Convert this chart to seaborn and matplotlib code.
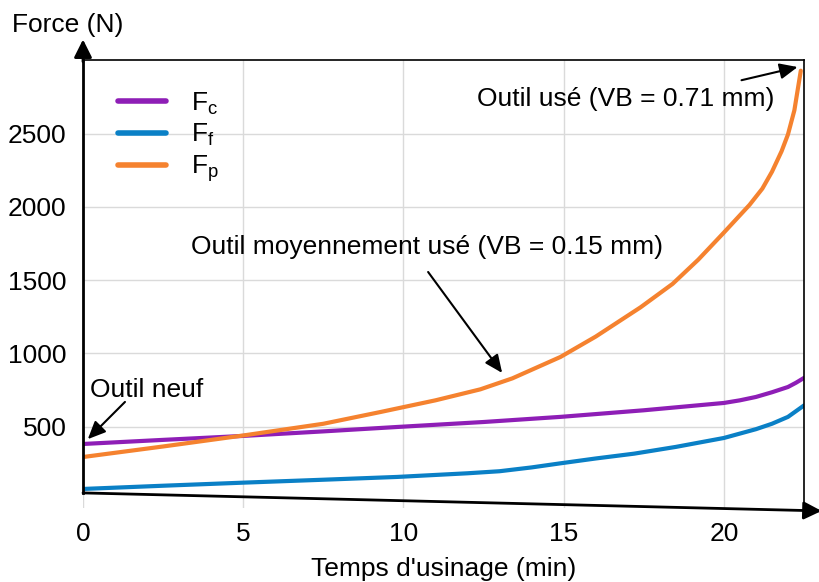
import numpy as np
import pandas as pd
import matplotlib
matplotlib.use("Agg")
import matplotlib.pyplot as plt
import seaborn as sns

# Données
temps_c = [0, 2.5, 5, 7.5, 9.8, 12.5, 14.9, 17.5, 20, 20.5, 21, 21.5, 22, 22.25, 22.5]
force_c = [382, 410, 437, 468, 498, 532, 567, 612, 662, 680, 703, 735, 771, 800, 833]
temps_f = [0, 2.5, 5, 7.5, 9.8, 12, 13, 14, 14.9, 16, 17.2, 18.5, 20, 21, 21.5, 22, 22.5]
force_f = [75, 97, 118, 138, 157, 182, 196, 222, 250, 283, 316, 362, 423, 483, 520, 567, 645]
temps_p = [0, 2.5, 5, 7.5, 9.3, 11, 12.4, 13.4, 14.9, 16, 17.4, 18.4, 19.2, 20, 20.8, 21.2,
           21.5, 21.8, 22.0, 22.2, 22.4]
force_p = [293, 365, 440, 520, 601, 680, 755, 830, 976, 1115, 1315, 1475, 1640, 1825, 2014,
           2125, 2240, 2380, 2495, 2660, 2930]

series = ["F$_\\mathrm{c}$", "F$_\\mathrm{f}$", "F$_\\mathrm{p}$"]
couleurs = ["#8E1EB6", "#0A80C6", "#F5822F"]
yticks = [500, 1000, 1500, 2000, 2500]
xticks = [0, 5, 10, 15, 20]

df = pd.concat([
    pd.DataFrame({"temps": temps_c, "force": force_c, "serie": series[0]}),
    pd.DataFrame({"temps": temps_f, "force": force_f, "serie": series[1]}),
    pd.DataFrame({"temps": temps_p, "force": force_p, "serie": series[2]}),
], ignore_index=True)

sns.set_theme(style="whitegrid")
plt.rcParams["font.family"] = ["Liberation Sans", "DejaVu Sans"]
plt.rcParams["mathtext.fontset"] = "custom"
plt.rcParams["mathtext.rm"] = "Liberation Sans"
plt.rcParams["mathtext.it"] = "Liberation Sans"
plt.rcParams["text.color"] = "black"

fs = 19

fig = plt.figure(figsize=(8.2, 5.82), dpi=100)
ax = fig.add_axes([83 / 820, 1 - 508 / 582, 721 / 820, 448 / 582])

sns.lineplot(data=df, x="temps", y="force", hue="serie", palette=couleurs,
             linewidth=3, ax=ax, legend=True, sort=True)

ax.set_xlim(0, 22.5)
ax.set_ylim(-55, 3003)
ax.set_xticks(xticks)
ax.set_yticks(yticks)
ax.tick_params(labelsize=fs, length=0, colors="black")
ax.tick_params(axis="y", pad=12)
ax.tick_params(axis="x", pad=10)
ax.grid(True, color="#dadada", linewidth=1)
ax.set_xlabel("Temps d'usinage (min)", fontsize=fs, labelpad=8, color="black")
ax.set_ylabel("")
ax.text(-0.099, 1.078, "Force (N)", transform=ax.transAxes, fontsize=fs,
        ha="left", va="center")

# Cadre
ax.spines["bottom"].set_visible(False)
ax.spines["left"].set_color("black")
ax.spines["left"].set_linewidth(2)
ax.spines["left"].set_bounds(48, 3003)
for s in ["top", "right"]:
    ax.spines[s].set_color("black")
    ax.spines[s].set_linewidth(1.2)

# Flèches des axes
ax.annotate("", xy=(0, 1.052), xytext=(0, 0.99), xycoords="axes fraction",
            arrowprops=dict(arrowstyle="-|>,head_width=0.45,head_length=0.9",
                            color="black", lw=2), annotation_clip=False)
ax.annotate("", xy=(23.05, -75), xytext=(0, 48), xycoords="data",
            arrowprops=dict(arrowstyle="-|>,head_width=0.45,head_length=0.9",
                            color="black", lw=2, shrinkA=0, shrinkB=0),
            annotation_clip=False)

# Annotations
fleche = dict(arrowstyle="-|>,head_width=0.4,head_length=0.9", color="black", lw=1.5,
              shrinkA=0, shrinkB=0)
ax.text(0.22, 751, "Outil neuf", fontsize=fs, ha="left", va="center")
ax.annotate("", xy=(0.15, 415), xytext=(1.31, 669), arrowprops=fleche)
ax.text(10.72, 1727, "Outil moyennement usé (VB = 0.15 mm)", fontsize=fs,
        ha="center", va="center")
ax.annotate("", xy=(13.08, 867), xytext=(10.77, 1556), arrowprops=fleche)
ax.text(12.3, 2740, "Outil usé (VB = 0.71 mm)", fontsize=fs, ha="left", va="center")
ax.annotate("", xy=(22.3, 2955), xytext=(20.55, 2865), arrowprops=fleche,
            annotation_clip=False)

# Légende
handles, labels = ax.get_legend_handles_labels()
leg = ax.legend(handles, labels, loc="upper left", bbox_to_anchor=(0.015, 0.985),
                frameon=False, fontsize=fs, handlelength=1.85, handletextpad=0.95,
                labelspacing=0.2)
for h in leg.get_lines():
    h.set_linewidth(4)

fig.savefig("out.png", dpi=100)
